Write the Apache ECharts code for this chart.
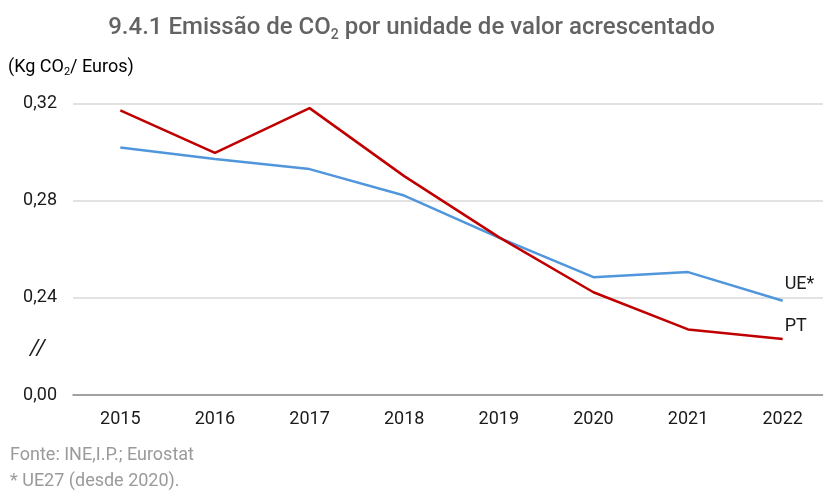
<!DOCTYPE html>
<html>
<head>
<meta charset="utf-8">
<script src="https://cdn.jsdelivr.net/npm/echarts@6/dist/echarts.min.js"></script>
<style>
  html, body { margin: 0; padding: 0; background: #fff; }
  #chart { width: 823px; height: 492px; }
</style>
</head>
<body>
<div id="chart"></div>
<script>
// Years on the horizontal axis
const years = ['2015', '2016', '2017', '2018', '2019', '2020', '2021', '2022'];

// kg CO2 per euro of gross value added
const ptValues = [0.3172, 0.2997, 0.3181, 0.2901, 0.2650, 0.2423, 0.2270, 0.2231];
const ueValues = [0.3019, 0.2972, 0.2930, 0.2821, 0.2648, 0.2485, 0.2506, 0.2388];

// The value axis is broken: the lowest tick stands for zero
const axisBase = 0.20;
const tickValues = [0.20, 0.24, 0.28, 0.32];
const tickLabels = ['0,00', '0,24', '0,28', '0,32'];

const seriesNames = ['PT', 'UE*'];

const FONT = 'Roboto, "Noto Sans", sans-serif';

function tickLabel(v) {
  for (let i = 0; i < tickValues.length; i++) {
    if (Math.abs(v - tickValues[i]) < 1e-6) return tickLabels[i];
  }
  return '';
}

const chart = echarts.init(document.getElementById('chart'), null, { renderer: 'canvas' });

chart.setOption({
  animation: false,
  backgroundColor: '#ffffff',
  title: {
    text: '{t|9.4.1 Emissão de CO}{s|2}{t| por unidade de valor acrescentado}',
    left: 'center',
    top: 9,
    textStyle: {
      rich: {
        t: { fontSize: 24, fontWeight: 500, color: '#636363', fontFamily: FONT },
        s: { fontSize: 14, fontWeight: 500, color: '#636363', fontFamily: FONT, padding: [14, 0, 0, 0] }
      }
    }
  },
  graphic: [
    {
      type: 'text', left: 8, top: 58,
      style: {
        text: '{t|(Kg CO}{s|2}{t|/ Euros)}',
        rich: {
          t: { fontSize: 18, color: '#1a1a1a', fontFamily: FONT },
          s: { fontSize: 11, color: '#1a1a1a', fontFamily: FONT, padding: [10, 0, 0, 0] }
        }
      }
    },
    {
      type: 'text', left: 30, top: 338,
      style: { text: '//', fontSize: 22, fill: '#1a1a1a', fontFamily: FONT, fontStyle: 'italic' }
    },
    {
      type: 'text', left: 10, top: 446,
      style: { text: 'Fonte: INE,I.P.; Eurostat', fontSize: 18, fill: '#9a9a9a', fontFamily: FONT }
    },
    {
      type: 'text', left: 10, top: 472,
      style: { text: '* UE27 (desde 2020).', fontSize: 18, fill: '#9a9a9a', fontFamily: FONT }
    }
  ],
  grid: { left: 73, width: 757, top: 103.5, bottom: 97, containLabel: false, outerBoundsMode: 'none' },
  xAxis: {
    type: 'category',
    data: years,
    boundaryGap: true,
    axisLine: { show: true, lineStyle: { color: '#8c8c8c', width: 1.5 } },
    axisTick: { show: false },
    axisLabel: { color: '#1a1a1a', fontSize: 18, fontFamily: FONT, margin: 15 }
  },
  yAxis: {
    type: 'value',
    min: axisBase,
    max: 0.32,
    interval: 0.04,
    axisLine: { show: false },
    axisTick: { show: false },
    splitLine: { show: true, lineStyle: { color: '#d9d9d9', width: 1.5 } },
    axisLabel: { color: '#1a1a1a', fontSize: 18, fontFamily: FONT, margin: 16, formatter: tickLabel }
  },
  series: [
    {
      name: seriesNames[0],
      type: 'line',
      data: ptValues,
      symbol: 'none',
      lineStyle: { color: '#c00000', width: 2.5 },
      itemStyle: { color: '#c00000' },
      endLabel: { show: true, formatter: seriesNames[0], distance: 2, offset: [0, -12],
        color: '#1a1a1a', fontSize: 18, fontFamily: FONT },
      z: 3
    },
    {
      name: seriesNames[1],
      type: 'line',
      data: ueValues,
      symbol: 'none',
      lineStyle: { color: '#5096dc', width: 2.5 },
      itemStyle: { color: '#5096dc' },
      endLabel: { show: true, formatter: seriesNames[1], distance: 2, offset: [0, -16],
        color: '#1a1a1a', fontSize: 18, fontFamily: FONT },
      z: 2
    }
  ]
});
</script>
</body>
</html>
